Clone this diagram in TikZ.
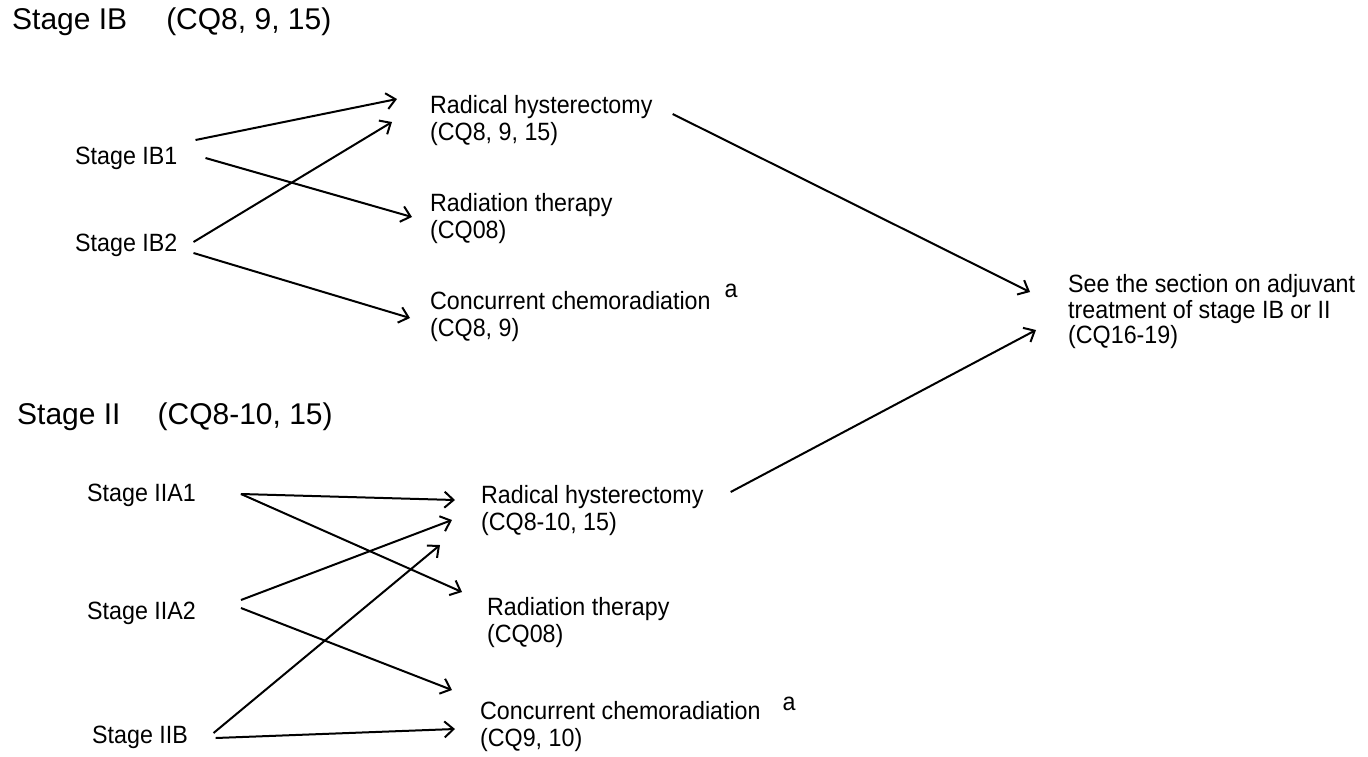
\documentclass[tikz,border=0pt]{standalone}
\usepackage{fontspec}
\setmainfont[FakeStretch=0.93]{Liberation Sans}
\newfontfamily\headfont{Liberation Sans}
\usetikzlibrary{arrows.meta}

\begin{document}
\begin{tikzpicture}[x=1pt,y=-1pt,
	every node/.style={font=\fontsize{25}{27}\selectfont,inner sep=0pt,anchor=west,align=left},
	head/.style={font=\headfont\fontsize{30}{34}\selectfont},
	arr/.style={color=black,line width=2pt,-{Straight Barb[length=9pt,width=16pt]}}]
	\useasboundingbox (0,0) rectangle (1368,756);

	% stage IB
	\node[head] (t1) at (12,22) {Stage IB\hspace{39pt}(CQ8, 9, 15)};
	\node (ib1) at (75,158) {Stage IB1};
	\node (ib2) at (75,245) {Stage IB2};
	\node (rh1) at (430,120.5) {Radical hysterectomy\\(CQ8, 9, 15)};
	\node (rt1) at (430,218.5) {Radiation therapy\\(CQ08)};
	\node (cc1) at (430,316.5) {Concurrent chemoradiation\hspace{14pt}\smash{\raisebox{12pt}{a}}\\(CQ8, 9)};

	% stage II
	\node[head] (t2) at (17,417) {Stage II\hspace{37pt}(CQ8-10, 15)};
	\node (iia1) at (87,495) {Stage IIA1};
	\node (iia2) at (87,613) {Stage IIA2};
	\node (iib) at (92,737) {Stage IIB};
	\node (rh2) at (481,511) {Radical hysterectomy\\(CQ8-10, 15)};
	\node (rt2) at (487,622.5) {Radiation therapy\\(CQ08)};
	\node (cc2) at (480,726.5) {Concurrent chemoradiation\hspace{22pt}\smash{\raisebox{9pt}{a}}\\(CQ9, 10)};

	% adjuvant
	\node[font=\fontsize{25}{25.5}\selectfont] (see) at (1068,312) {See the section on adjuvant\\treatment of stage IB or II\\(CQ16-19)};

	\draw[arr] ([shift={(18,-18)}]ib1.east) -- ([shift={(-33,-21.5)}]rh1.west);
	\draw[arr] ([shift={(28,0)}]ib1.east) -- ([shift={(-18,-1.5)}]rt1.west);
	\draw[arr] ([shift={(16,-3)}]ib2.east) -- ([shift={(-38,1.5)}]rh1.west);
	\draw[arr] ([shift={(16,8)}]ib2.east) -- ([shift={(-20,1.5)}]cc1.west);

	\draw[arr] ([shift={(20,-6.5)}]rh1.east) -- ([shift={(-38,-20)}]see.west);
	\draw[arr] ([shift={(27,-19)}]rh2.east) -- ([shift={(-32,18)}]see.west);

	\draw[arr] ([shift={(45,-1)}]iia1.east) -- ([shift={(-26,-11)}]rh2.west);
	\draw[arr] ([shift={(45,-1)}]iia1.east) -- ([shift={(-25,-30.5)}]rt2.west);
	\draw[arr] ([shift={(45,-13)}]iia2.east) -- ([shift={(-29,9)}]rh2.west);
	\draw[arr] ([shift={(45,-5)}]iia2.east) -- ([shift={(-28,-36.5)}]cc2.west);
	\draw[arr] ([shift={(25.5,-4)}]iib.east) -- ([shift={(-41,34)}]rh2.west);
	\draw[arr] ([shift={(27.5,1)}]iib.east) -- ([shift={(-25,2.5)}]cc2.west);
\end{tikzpicture}
\end{document}
